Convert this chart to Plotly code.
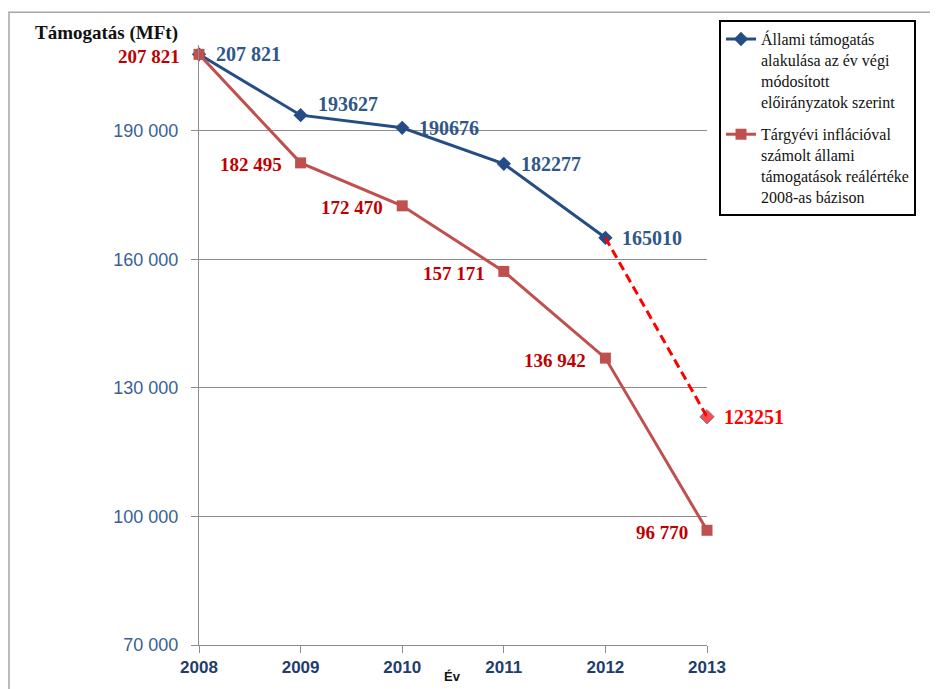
import plotly.graph_objects as go

years = [2008, 2009, 2010, 2011, 2012, 2013]

# Állami támogatás (év végi módosított előirányzat)
nominal = [207821, 193627, 190676, 182277, 165010]
nominal_labels = ["207 821", "193627", "190676", "182277", "165010"]
# 2013-as becslés (szaggatott szakasz)
forecast_years = [2012, 2013]
forecast = [165010, 123251]
forecast_label = "123251"

# reálérték 2008-as bázison
real = [207821, 182495, 172470, 157171, 136942, 96770]
real_labels = ["207 821", "182 495", "172 470", "157 171", "136 942", "96 770"]

y_ticks = [70000, 100000, 130000, 160000, 190000]
y_ticktext = ["70 000", "100 000", "130 000", "160 000", "190 000"]

BLUE = "#254D85"
BLUE_TXT = "#2F5788"
RED = "#C0504D"
RED_TXT = "#C00000"

# plot area in page pixels (page has an 8px body margin)
PL, PR, PT, PB = 199, 707, 45, 648


def px(x):
    return (x - PL) / (PR - PL)


def py(y):
    return (PB - y) / (PB - PT)


fig = go.Figure()

fig.add_trace(go.Scatter(
    x=years[:5], y=nominal,
    mode="lines+markers",
    name="Állami támogatás<br>alakulása az év végi<br>módosított<br>előirányzatok szerint",
    line=dict(color=BLUE, width=3),
    marker=dict(symbol="diamond", size=11, color=BLUE),
    legendgroup="a",
    cliponaxis=False,
))

fig.add_trace(go.Scatter(
    x=forecast_years, y=forecast,
    mode="lines+markers",
    showlegend=False,
    line=dict(color="#FF0000", width=3, dash="9px,5px"),
    marker=dict(symbol="diamond", size=[0, 11], color="#FF0000",
                line=dict(color=BLUE, width=1)),
    cliponaxis=False,
))

fig.add_trace(go.Scatter(
    x=years, y=real,
    mode="lines+markers",
    name="Tárgyévi inflációval<br>számolt állami<br>támogatások reálértéke<br>2008-as bázison",
    line=dict(color=RED, width=3),
    marker=dict(symbol="square", size=11, color=RED),
    legendgroup="b",
    cliponaxis=False,
))

# adatcímkék
blue_yshift = [0, 11, 0, 0, 0]
for x, y, t, ys in zip(years, nominal, nominal_labels, blue_yshift):
    fig.add_annotation(x=x, y=y, text=f"<b>{t}</b>", showarrow=False,
                       xanchor="left", yanchor="middle", xshift=15, yshift=ys,
                       font=dict(family="Liberation Serif", size=20, color=BLUE_TXT))
fig.add_annotation(x=forecast_years[1], y=forecast[1], text=f"<b>{forecast_label}</b>",
                   showarrow=False, xanchor="left", yanchor="middle", xshift=15,
                   font=dict(family="Liberation Serif", size=20, color="#FF0000"))
for x, y, t in zip(years, real, real_labels):
    fig.add_annotation(x=x, y=y, text=f"<b>{t}</b>", showarrow=False,
                       xanchor="right", yanchor="middle", xshift=-17, yshift=-2,
                       font=dict(family="Liberation Serif", size=19, color=RED_TXT))

# külső keret
fig.add_shape(type="rect", xref="paper", yref="paper",
              x0=px(9), x1=px(950), y0=py(700), y1=py(12),
              line=dict(color="#A6A6A6", width=1.5), layer="below")

fig.add_annotation(text="<b>Támogatás (MFt)</b>", xref="paper", yref="paper",
                   x=px(33), y=py(33), xanchor="left", yanchor="middle",
                   showarrow=False, font=dict(family="Liberation Serif", size=19, color="#111111"))
fig.add_annotation(text="<b>Év</b>", xref="paper", yref="paper",
                   x=px(452), y=py(680), xanchor="center", yanchor="middle",
                   showarrow=False, font=dict(family="Liberation Sans", size=13, color="#111111"))

fig.update_layout(
    width=930, height=681,
    margin=dict(l=PL - 8, r=930 - (PR - 8), t=PT - 8, b=681 - (PB - 8)),
    paper_bgcolor="white", plot_bgcolor="white",
    showlegend=True,
    legend=dict(
        x=px(719), y=py(20), xanchor="left", yanchor="top",
        bordercolor="black", borderwidth=2, bgcolor="white",
        font=dict(family="Liberation Serif", size=16, color="#111111"),
        tracegroupgap=9, valign="top",
    ),
    xaxis=dict(
        range=[2008, 2013], tickvals=years, ticktext=[str(y) for y in years],
        showgrid=False, showline=True, linecolor="#8C8C8C", linewidth=1,
        ticks="outside", ticklen=7, tickcolor="#8C8C8C",
        tickfont=dict(family="Liberation Sans", size=17, color="#1F3D6B", weight="bold"),
        zeroline=False,
    ),
    yaxis=dict(
        range=[70000, 210000], tickvals=y_ticks, ticktext=y_ticktext,
        showgrid=True, gridcolor="#8C8C8C", gridwidth=1,
        showline=True, linecolor="#8C8C8C", linewidth=1,
        ticks="outside", ticklen=7, tickcolor="#8C8C8C",
        ticklabelstandoff=9,
        tickfont=dict(family="Liberation Sans", size=18, color="#3A5F95"),
        zeroline=False,
    ),
)

fig.write_html("out.html")
